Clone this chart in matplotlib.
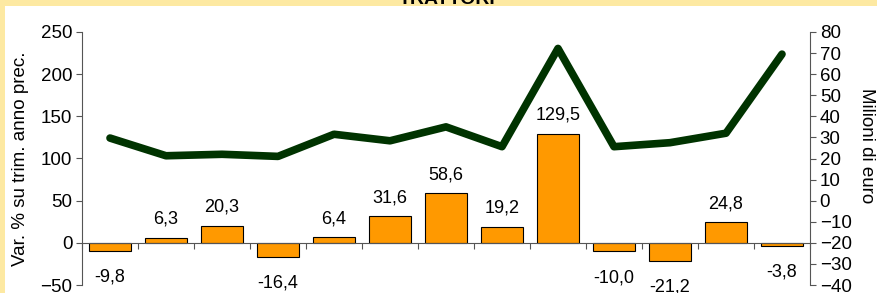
import numpy as np
import matplotlib.pyplot as plt
from matplotlib.patches import Rectangle

plt.rcParams['font.family'] = ['Liberation Sans', 'DejaVu Sans']

# ==============================================================
# DATI
# ==============================================================
var_pct = [-9.8, 6.3, 20.3, -16.4, 6.4, 31.6, 58.6, 19.2, 129.5, -10.0, -21.2, 24.8, -3.8]
milioni = [29.7, 21.3, 22.0, 21.0, 31.5, 28.4, 35.0, 25.6, 72.2, 25.6, 27.5, 32.0, 69.5]
labels = ['-9,8', '6,3', '20,3', '-16,4', '6,4', '31,6', '58,6', '19,2', '129,5',
          '-10,0', '-21,2', '24,8', '-3,8']

W, H = 878, 293
fig = plt.figure(figsize=(W / 100, H / 100), dpi=100, facecolor='#FDE9A2')
# area bianca interna (bordo giallo sopra e a sinistra)
fig.patches.append(Rectangle((5 / W, 0), 1, 1 - 6 / H, transform=fig.transFigure,
                             facecolor='white', edgecolor='none', zorder=-10))

fig.text(447 / W, 1 - 4 / H, 'TRATTORI', ha='center', va='baseline',
         fontsize=14, fontweight='bold')

ax = fig.add_axes([82 / W, 8 / H, (810 - 82) / W, (285 - 32) / H])
ax.set_facecolor('none')
x = np.arange(len(var_pct))

ax.bar(x, var_pct, width=0.75, color='#FF9900', edgecolor='black', linewidth=0.8, zorder=2)
for xi, v, lab in zip(x, var_pct, labels):
    off = 7 if v >= 0 else -19
    ax.annotate(lab, (xi, v), xytext=(0, off), textcoords='offset points',
                ha='center', va='bottom' if v >= 0 else 'center', fontsize=13)

ax.set_xlim(-0.5, len(var_pct) - 0.5)
ax.set_ylim(-50, 250)
ax.set_yticks(range(-50, 251, 50))
ax.set_xticks(np.arange(-0.5, len(var_pct)), [])
ax.spines['bottom'].set_position(('data', 0))
ax.spines['top'].set_visible(False)
ax.spines['right'].set_visible(False)
ax.spines['left'].set_color('#555555')
ax.spines['bottom'].set_color('#555555')
ax.tick_params(axis='x', length=4, color='#555555')
ax.tick_params(axis='y', length=4, color='#555555', labelsize=13.5, pad=3)
ax.set_ylabel('Var. % su trim. anno prec.', fontsize=13.5, va='center')
ax.yaxis.set_label_coords(-0.085, 0.5)

ax2 = ax.twinx()
ax2.plot(x, milioni, color='#003300', linewidth=5.5, solid_capstyle='round', zorder=3)
ax2.set_ylim(-40, 80)
ax2.set_yticks(range(-40, 81, 10))
for s in ['top', 'left', 'bottom']:
    ax2.spines[s].set_visible(False)
ax2.spines['right'].set_color('#555555')
ax2.tick_params(axis='y', length=4, color='#555555', labelsize=13.5, pad=3)
ax2.set_ylabel('Milioni di euro', fontsize=13.5, rotation=-90, va='center', ha='center')
ax2.yaxis.set_label_coords(1.078, 0.55)

fig.savefig('out.png', dpi=100, facecolor=fig.get_facecolor())
